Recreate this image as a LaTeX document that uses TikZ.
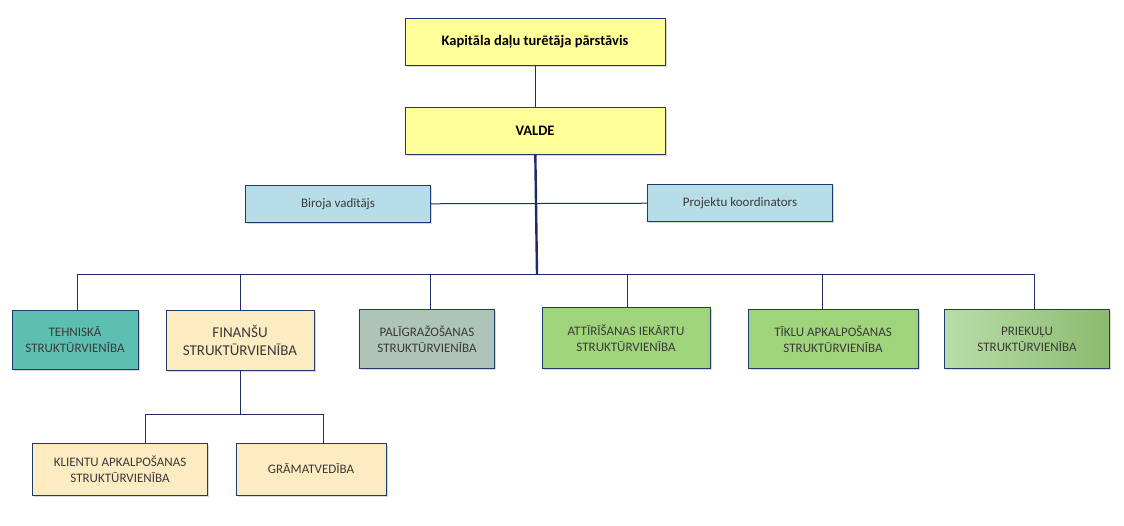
\documentclass[tikz,border=0pt]{standalone}
\usepackage{fontspec}
\setmainfont{Carlito}
\usetikzlibrary{shadows}

\definecolor{boxline}{HTML}{1F3A6E}
\definecolor{linkblue}{HTML}{1C2E66}
\definecolor{valdeyellow}{HTML}{FFFF99}
\definecolor{staffblue}{HTML}{B7DEE8}
\definecolor{tehteal}{HTML}{5CBFB2}
\definecolor{finsand}{HTML}{FDEBC1}
\definecolor{palgrey}{HTML}{AFC4B8}
\definecolor{unitgreen}{HTML}{A0D47B}
\definecolor{prilight}{HTML}{B9DEAA}
\definecolor{pridark}{HTML}{8CBA6E}
\definecolor{textgrey}{HTML}{3A3A3A}

\tikzstyle{unit}=[draw=boxline,semithick,rectangle,align=center,inner sep=2pt,
  text=textgrey,font=\fontsize{13}{16}\selectfont,
  drop shadow={shadow xshift=1.5pt,shadow yshift=-1.5pt,fill=gray!60,opacity=.5}]
\tikzstyle{board}=[unit,fill=valdeyellow,minimum width=260pt,minimum height=47pt,
  text=black,font=\fontsize{14.5}{17}\selectfont\bfseries]
\tikzstyle{staff}=[unit,fill=staffblue,minimum width=185pt,minimum height=37pt]
\tikzstyle{dept}=[unit,minimum height=59pt]
\tikzstyle{link}=[draw=linkblue,line width=1pt]
\tikzstyle{trunk}=[draw=linkblue,line width=2.4pt]

\begin{document}
\begin{tikzpicture}[x=1pt,y=-1pt]
    \useasboundingbox (0,0) rectangle (1124,525);
    % Top of the tree
    \node[board] (owner) at (535,42) {Kapitāla daļu turētāja pārstāvis};
    \node[board] (valde) at (535,131) {VALDE};
    \node[staff] (office) at (338,204) {Biroja vadītājs};
    \node[staff] (coord) at (740,203) {Projektu koordinators};

    % Structural units
    \node[dept,fill=tehteal,minimum width=126pt] (tech) at (75,340) {TEHNISKĀ\\STRUKTŪRVIENĪBA};
    \node[dept,fill=finsand,minimum width=148pt,minimum height=60pt,
          font=\fontsize{15}{18}\selectfont] (fin) at (240,340) {FINANŠU\\STRUKTŪRVIENĪBA};
    \node[dept,fill=palgrey,minimum width=135pt] (aux) at (427,339) {PALĪGRAŽOŠANAS\\STRUKTŪRVIENĪBA};
    \node[dept,fill=unitgreen,minimum width=168pt,minimum height=61pt] (treat) at (626,338) {ATTĪRĪŠANAS IEKĀRTU\\STRUKTŪRVIENĪBA};
    \node[dept,fill=unitgreen,minimum width=170pt] (net) at (833,339) {TĪKLU APKALPOŠANAS\\STRUKTŪRVIENĪBA};
    \node[dept,left color=prilight,right color=pridark,minimum width=165pt] (perks) at (1027,339) {PRIEKUĻU\\STRUKTŪRVIENĪBA};

    % Finance sub-units
    \node[dept,fill=finsand,minimum width=175pt,minimum height=52pt] (client) at (120,469) {KLIENTU APKALPOŠANAS\\STRUKTŪRVIENĪBA};
    \node[dept,fill=finsand,minimum width=150pt,minimum height=52pt] (books) at (311,469) {GRĀMATVEDĪBA};

    \coordinate (bus) at (537,274);
    \coordinate (finbus) at (240,414);

    % Connectors
    \path[link] (owner) -- (valde);
    \path[link] (office) -- (coord);
    \foreach \name/\dx in {tech/2,fin/0,aux/3,treat/1,net/-11,perks/7}
        \path[link] (bus) -| ([xshift=\dx]\name.north);
    \path[link] (fin) -- (finbus);
    \foreach \name/\dx in {client/25,books/12}
        \path[link] (finbus) -| ([xshift=\dx]\name.north);
    \path[trunk] (valde) -- (bus);
\end{tikzpicture}
\end{document}
